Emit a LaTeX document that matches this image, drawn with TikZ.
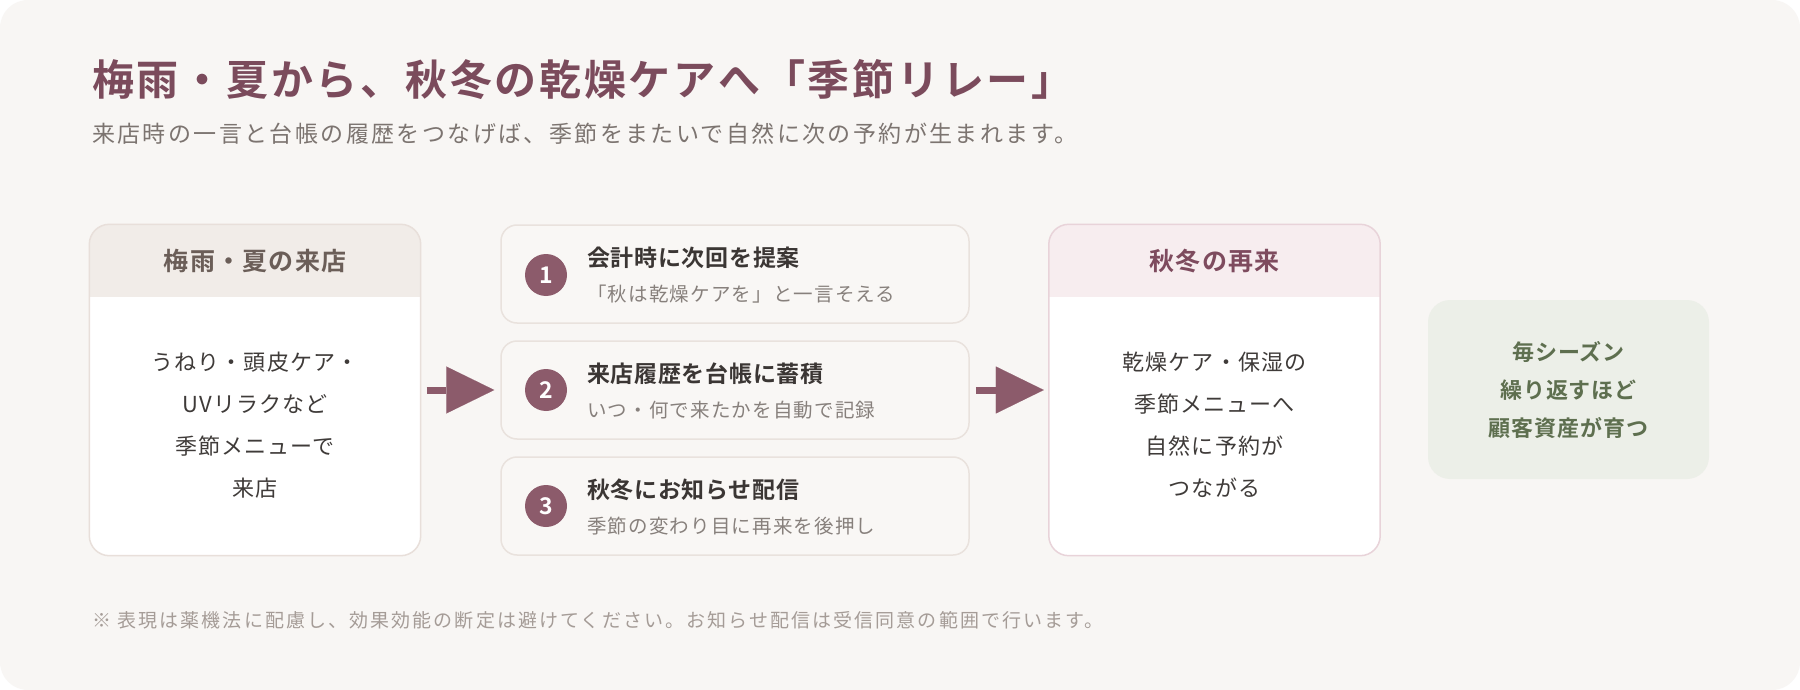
\documentclass[tikz,border=0pt]{standalone}
\usepackage{fontspec}
\setmainfont{Noto Sans CJK JP}[BoldFont={Noto Sans CJK JP Bold}]
\usetikzlibrary{arrows.meta}
\newcommand{\myfs}[2]{\fontsize{#1pt}{#2pt}\selectfont}
\newcommand{\lsp}[1]{\addfontfeature{LetterSpace=#1}}
\definecolor{bgc}{HTML}{F8F6F4}
\definecolor{titlec}{HTML}{7B4B5C}
\definecolor{subc}{HTML}{7C7470}
\definecolor{leftbd}{HTML}{E8DFDA}
\definecolor{lefthd}{HTML}{F1ECE8}
\definecolor{lefthdtxt}{HTML}{6B5E58}
\definecolor{rightbd}{HTML}{E8D3D9}
\definecolor{righthd}{HTML}{F7EDEF}
\definecolor{righthdtxt}{HTML}{7E4B5E}
\definecolor{bodytxt}{HTML}{3F3B39}
\definecolor{stepbd}{HTML}{E9E2DD}
\definecolor{stepfill}{HTML}{F9F7F5}
\definecolor{accent}{HTML}{8C5B6B}
\definecolor{steptxt}{HTML}{3B3634}
\definecolor{stepsub}{HTML}{87807C}
\definecolor{greenfill}{HTML}{ECEFE8}
\definecolor{greentxt}{HTML}{5E6F4F}
\definecolor{notec}{HTML}{A59C97}
\tikzset{
  titletext/.style={anchor=base west, inner sep=0pt, text=titlec, font=\myfs{42}{50}\bfseries\lsp{6.5}},
  subtext/.style={anchor=base west, inner sep=0pt, text=subc, font=\myfs{23}{28}\lsp{10.4}},
  notetext/.style={anchor=base west, inner sep=0pt, text=notec, font=\myfs{19}{24}\lsp{11}},
  card/.style={rectangle, rounded corners=20pt, fill=white, minimum width=331pt, minimum height=331pt, inner sep=0pt},
  cardline/.style={anchor=base, inner sep=0pt, text=bodytxt, font=\myfs{22}{26}\lsp{5}},
  hdrtext/.style={anchor=base, inner sep=0pt, font=\myfs{25}{30}\bfseries\lsp{5}},
  stepbox/.style={rectangle, rounded corners=16pt, fill=stepfill, draw=stepbd, line width=1.5pt, minimum width=468pt, minimum height=98pt, inner sep=0pt},
  stepnum/.style={circle, fill=accent, minimum size=42pt, inner sep=0pt},
  numtext/.style={anchor=base, inner sep=0pt, text=white, font=\myfs{23}{26}\bfseries},
  stepmain/.style={anchor=base west, inner sep=0pt, text=steptxt, font=\myfs{23}{28}\bfseries\lsp{3}},
  stepsubtext/.style={anchor=base west, inner sep=0pt, text=stepsub, font=\myfs{19.5}{24}\lsp{6}},
  greenbox/.style={rectangle, rounded corners=22pt, fill=greenfill, minimum width=281pt, minimum height=179pt, inner sep=0pt},
  greenline/.style={anchor=base, inner sep=0pt, text=greentxt, font=\myfs{22}{26}\bfseries\lsp{4}},
  flow/.style={draw=accent, line width=7pt, -{Triangle[length=48pt,width=47pt,line width=0.1pt]}},
}
\begin{document}
\begin{tikzpicture}[x=1pt,y=-1pt]
\useasboundingbox (0,0) rectangle (1800,690);
\fill[white] (0,0) rectangle (1800,690);
\fill[bgc, rounded corners=28pt] (0,0) rectangle (1800,690);

% title
\node[titletext] (title) at (92,96) {梅雨・夏から、秋冬の乾燥ケアへ「季節リレー」};
\node[subtext] (subtitle) at (92,143) {来店時の一言と台帳の履歴をつなげば、季節をまたいで自然に次の予約が生まれます。};

% left card
\node[card] (left) at (255,390) {};
\begin{scope}
  \clip[rounded corners=20pt] (left.north west) rectangle (left.south east);
  \fill[lefthd] (left.north west) rectangle ([yshift=-73pt]left.north east);
\end{scope}
\draw[leftbd, line width=1.5pt, rounded corners=20pt] (left.north west) rectangle (left.south east);
\node[hdrtext, text=lefthdtxt] (lefthdr) at (255,270.5) {梅雨・夏の来店};
\node[cardline] (l1) at (255,370.4) {うねり・頭皮ケア・};
\node[cardline] (l2) at (255,412.4) {UVリラクなど};
\node[cardline] (l3) at (255,454.4) {季節メニューで};
\node[cardline] (l4) at (255,496.4) {来店};

% steps
\node[stepbox] (step1) at (735,274) {};
\node[stepbox] (step2) at (735,390) {};
\node[stepbox] (step3) at (735,506) {};
\node[stepnum] (c1) at (546,275) {};
\node[stepnum] (c2) at (546,390) {};
\node[stepnum] (c3) at (546,506) {};
\node[numtext] (n1) at (546,283.3) {1};
\node[numtext] (n2) at (546,398.3) {2};
\node[numtext] (n3) at (546,514.3) {3};
\node[stepmain] (m1) at (587,266.7) {会計時に次回を提案};
\node[stepsubtext] (s1) at (587,301) {「秋は乾燥ケアを」と一言そえる};
\node[stepmain] (m2) at (587,382.7) {来店履歴を台帳に蓄積};
\node[stepsubtext] (s2) at (587,417) {いつ・何で来たかを自動で記録};
\node[stepmain] (m3) at (587,498.7) {秋冬にお知らせ配信};
\node[stepsubtext] (s3) at (587,533) {季節の変わり目に再来を後押し};

% right card
\node[card] (right) at (1214.5,390) {};
\begin{scope}
  \clip[rounded corners=20pt] (right.north west) rectangle (right.south east);
  \fill[righthd] (right.north west) rectangle ([yshift=-73pt]right.north east);
\end{scope}
\draw[rightbd, line width=1.5pt, rounded corners=20pt] (right.north west) rectangle (right.south east);
\node[hdrtext, text=righthdtxt] (righthdr) at (1214.5,270.5) {秋冬の再来};
\node[cardline] (r1) at (1214.5,370.4) {乾燥ケア・保湿の};
\node[cardline] (r2) at (1214.5,412.4) {季節メニューへ};
\node[cardline] (r3) at (1214.5,454.4) {自然に予約が};
\node[cardline] (r4) at (1214.5,496.4) {つながる};

% green box
\node[greenbox] (green) at (1568.5,389.5) {};
\node[greenline] (g1) at (1568.5,360.4) {毎シーズン};
\node[greenline] (g2) at (1568.5,398.4) {繰り返すほど};
\node[greenline] (g3) at (1568.5,436.4) {顧客資産が育つ};

% arrows
\draw[flow] ([xshift=6pt]left.east) -- ([xshift=-6pt]step2.west);
\draw[flow] ([xshift=6pt]step2.east) -- ([xshift=-5pt]right.west);

% note
\node[notetext] (note) at (92,627) {※ 表現は薬機法に配慮し、効果効能の断定は避けてください。お知らせ配信は受信同意の範囲で行います。};
\end{tikzpicture}
\end{document}
